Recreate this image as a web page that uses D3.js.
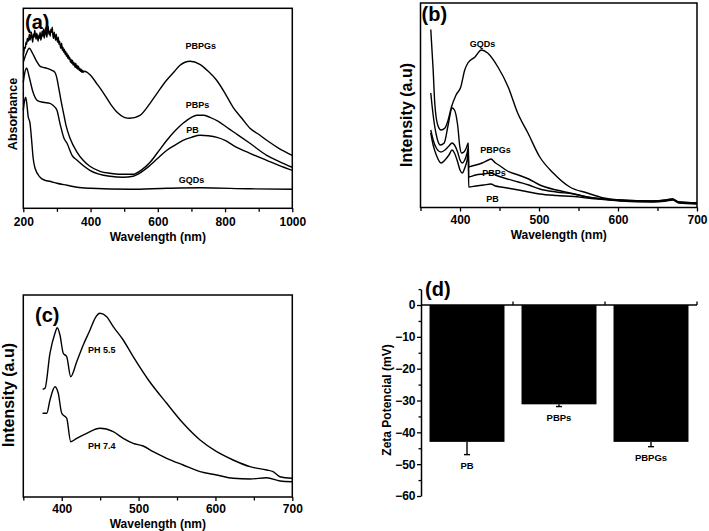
<!DOCTYPE html>
<html><head><meta charset="utf-8">
<script src="https://cdn.jsdelivr.net/npm/d3@7"></script>
<style>
body{margin:0;background:#fff}
svg{display:block}
text{font-family:"Liberation Sans",Arial,Helvetica,sans-serif;font-weight:bold;fill:#000}
</style>
</head><body>
<svg id="c" width="709" height="531"></svg>
<script>
// ---------- Panel (a): UV-Vis absorbance [wavelength nm, absorbance a.u.] ----------
const absPBPGs = [[200,1.53],[202,1.57],[204,1.61],[206,1.60],[208,1.66],[210,1.64],[212,1.70],[214,1.67],[216,1.69],[218,1.74],[220,1.68],[222,1.72],[224,1.76],[226,1.70],[228,1.66],[230,1.74],[232,1.71],[234,1.78],[236,1.73],[238,1.69],[240,1.75],[242,1.72],[244,1.67],[246,1.73],[248,1.70],[250,1.76],[252,1.68],[254,1.71],[256,1.77],[258,1.72],[260,1.79],[262,1.70],[264,1.74],[266,1.80],[268,1.75],[270,1.71],[272,1.78],[274,1.82],[276,1.74],[278,1.77],[280,1.72],[282,1.79],[284,1.76],[286,1.81],[288,1.73],[290,1.70],[292,1.76],[294,1.72],[296,1.68],[298,1.74],[300,1.69],[302,1.66],[304,1.71],[306,1.64],[308,1.67],[310,1.62],[312,1.60],[314,1.65],[316,1.58],[318,1.61],[320,1.56],[322,1.59],[324,1.54],[326,1.57],[328,1.52],[330,1.55],[332,1.50],[334,1.53],[336,1.49],[338,1.51],[340,1.46],[342,1.49],[344,1.45],[346,1.48],[348,1.43],[350,1.46],[352,1.44],[354,1.41],[356,1.45],[358,1.40],[360,1.43],[362,1.39],[364,1.42],[366,1.38],[368,1.40],[370,1.37],[372,1.39],[374,1.36],[376,1.38],[378,1.36],[380,1.37],[390,1.36],[400,1.33],[420,1.24],[437,1.16],[460,1.04],[479,0.96],[500,0.91],[517,0.90],[547,0.93],[577,1.05],[600,1.16],[626,1.28],[650,1.37],[666,1.43],[696,1.47],[725,1.44],[750,1.37],[775,1.28],[800,1.15],[824,1.01],[850,0.90],[874,0.80],[900,0.74],[924,0.68],[960,0.60],[1000,0.53]];
const absPBPs = [[200,1.46],[208,1.54],[218,1.60],[226,1.56],[238,1.48],[250,1.42],[259,1.41],[270,1.40],[285,1.38],[294,1.36],[300,1.30],[305,1.21],[312,1.08],[318,0.98],[327,0.83],[339,0.70],[360,0.56],[378,0.48],[398,0.42],[428,0.37],[458,0.35],[488,0.34],[508,0.34],[526,0.34],[550,0.38],[577,0.46],[600,0.56],[627,0.68],[650,0.77],[675,0.85],[700,0.91],[716,0.93],[735,0.93],[755,0.91],[780,0.87],[805,0.81],[840,0.73],[874,0.65],[924,0.53],[960,0.47],[1000,0.41]];
const absPB = [[200,1.26],[204,1.35],[210,1.40],[217,1.32],[229,1.16],[241,1.08],[259,1.06],[279,1.05],[288,1.03],[300,0.98],[309,0.85],[321,0.70],[330,0.65],[345,0.53],[360,0.48],[398,0.38],[458,0.32],[497,0.31],[526,0.32],[550,0.36],[577,0.43],[600,0.50],[627,0.58],[650,0.63],[675,0.68],[700,0.71],[726,0.73],[750,0.725],[776,0.71],[800,0.68],[824,0.63],[874,0.55],[924,0.48],[960,0.43],[1000,0.38]];
const absGQDs = [[200,0.98],[204,1.08],[207,1.11],[211,1.03],[214,0.93],[220,0.85],[226,0.63],[229,0.51],[235,0.40],[250,0.31],[265,0.28],[279,0.27],[300,0.25],[330,0.23],[360,0.21],[400,0.20],[517,0.19],[627,0.20],[726,0.205],[874,0.195],[1000,0.19]];
const absLabels = [{text:"PBPGs",x:728,y:1.59},{text:"PBPs",x:718,y:1.00},{text:"PB",x:703,y:0.75},{text:"GQDs",x:700,y:0.25}];
const absTicks = [200,400,600,800,1000];
const absMinor = [300,500,700,900];

// ---------- Panel (b): fluorescence [wavelength nm, intensity a.u.] ----------
const flGQDs = [[363,1.78],[366,1.38],[368,1.05],[372,0.82],[376,0.775],[381,0.795],[385,0.875],[389,1.0],[395,1.125],[401,1.205],[406,1.375],[410,1.445],[419,1.505],[427,1.575],[435,1.545],[448,1.405],[461,1.205],[473,0.945],[486,0.745],[501,0.505],[518,0.345],[539,0.205],[561,0.145],[582,0.095],[602,0.075],[644,0.065],[661,0.075],[669,0.085],[677,0.055],[700,0.045]];
const flPBPGs = [[363,1.145],[366,0.925],[370,0.725],[375,0.625],[380,0.645],[385,0.825],[390,0.995],[393,0.975],[397,0.825],[400,0.595],[402,0.545],[405,0.555],[408,0.595],[410.5,0.645],[411,0.405],[415,0.415],[420,0.425],[428,0.445],[436,0.475],[439,0.485],[445,0.445],[449,0.425],[460,0.365],[474,0.325],[487,0.285],[501,0.225],[522,0.175],[539,0.145],[561,0.105],[582,0.085],[602,0.075],[644,0.065],[661,0.075],[669,0.085],[677,0.055],[700,0.045]];
const flPBPs = [[363,0.775],[366,0.675],[370,0.595],[376,0.555],[381,0.575],[386,0.615],[390,0.645],[393,0.625],[397,0.555],[400,0.475],[403,0.445],[406,0.475],[409,0.545],[410.5,0.595],[411,0.305],[420,0.325],[430,0.335],[439,0.345],[445,0.325],[452,0.305],[474,0.255],[487,0.225],[501,0.185],[522,0.155],[544,0.135],[561,0.105],[582,0.085],[602,0.07],[644,0.06],[661,0.07],[669,0.08],[677,0.05],[700,0.04]];
const flPB = [[363,0.745],[366,0.625],[370,0.525],[376,0.445],[381,0.475],[386,0.525],[390,0.575],[393,0.545],[397,0.455],[400,0.375],[403,0.345],[406,0.395],[409,0.475],[410.5,0.555],[411,0.205],[420,0.215],[430,0.225],[439,0.235],[445,0.215],[452,0.205],[474,0.175],[487,0.155],[501,0.135],[522,0.12],[544,0.11],[561,0.095],[582,0.08],[602,0.065],[644,0.055],[661,0.065],[669,0.075],[677,0.045],[700,0.035]];
const flLabels = [{text:"GQDs",x:428.5,y:1.605},{text:"PBPGs",x:445,y:0.545},{text:"PBPs",x:443,y:0.315},{text:"PB",x:441,y:0.06}];
const flTicks = [400,500,600,700];
const flMinor = [350,450,550,650];

// ---------- Panel (c): fluorescence at two pH [wavelength nm, intensity a.u.] ----------
const ph55 = [[375.2,1.077],[378.2,1.087],[384.7,1.437],[391.2,1.637],[394.2,1.693],[397.7,1.62],[402,1.437],[406.5,1.403],[411.7,1.203],[419.5,1.353],[428,1.52],[436.8,1.67],[443.3,1.787],[449.8,1.837],[458.5,1.803],[467,1.703],[480,1.57],[493,1.403],[512.8,1.17],[536.6,0.937],[558,0.737],[580,0.57],[601.6,0.453],[623,0.37],[645,0.303],[666.7,0.27],[675,0.253],[684,0.203],[700,0.187]];
const ph74 = [[375,0.837],[380.5,0.837],[384.7,0.97],[391.2,1.103],[395.5,1.037],[400,0.837],[406.5,0.787],[411.7,0.553],[419.5,0.587],[432.5,0.637],[449.8,0.687],[467,0.653],[480,0.587],[493,0.537],[506,0.51],[519,0.453],[536.6,0.387],[558,0.32],[580,0.253],[601.6,0.22],[623,0.187],[645,0.18],[666.7,0.193],[684,0.16],[700,0.153]];
const phLabels = [{text:"PH 5.5",x:452,y:1.44},{text:"PH 7.4",x:452,y:0.48}];
const phTicks = [400,500,600,700];
const phMinor = [350,450,550,650];

// ---------- Panel (d): zeta potential ----------
const zetaCats = ["PB","PBPs","PBPGs"];
const zetaValues = [-43,-31.2,-43];
const zetaErrors = [4,0.7,1.5];
const zetaTicks = [0,-10,-20,-30,-40,-50,-60];
const zetaMinor = [5,-5,-15,-25,-35,-45,-55];

const svg = d3.select("#c");

function styleAxis(ax, size){
  ax.attr("font-family", null).attr("font-size", null);
  ax.selectAll("text").attr("font-size", size).attr("font-weight","bold").attr("fill","#000");
  ax.selectAll("line").attr("stroke","#000").attr("stroke-width",1.3);
}

function linePanel(p){
  const x = d3.scaleLinear().domain(p.xd).range([p.left,p.right]);
  const y = d3.scaleLinear().domain(p.yd).range([p.bottom,p.top]);
  const g = svg.append("g");
  const ax = g.append("g").attr("transform",`translate(0,${p.bottom})`)
    .call(d3.axisBottom(x).tickValues(p.major).tickSize(4).tickSizeOuter(0).tickPadding(p.pad).tickFormat(d3.format("d")));
  ax.select(".domain").remove();
  styleAxis(ax,12);
  const am = g.append("g").attr("transform",`translate(0,${p.bottom})`)
    .call(d3.axisBottom(x).tickValues(p.minor).tickSize(3.5).tickSizeOuter(0).tickFormat(""));
  am.select(".domain").remove();
  styleAxis(am,12);
  g.append("rect").attr("x",p.left).attr("y",p.top).attr("width",p.right-p.left).attr("height",p.bottom-p.top)
    .attr("fill","none").attr("stroke","#000").attr("stroke-width",1.5);
  const line = d3.line().x(d=>x(d[0])).y(d=>y(d[1])).curve(d3.curveMonotoneX);
  p.series.forEach(s=>g.append("path").attr("d",line(s)).attr("fill","none").attr("stroke","#000")
    .attr("stroke-width",1.4).attr("stroke-linejoin","round"));
  p.labels.forEach(l=>g.append("text").attr("x",x(l.x)).attr("y",y(l.y)).attr("text-anchor","middle")
    .attr("font-size",9).text(l.text));
  g.append("text").attr("x",(p.left+p.right)/2).attr("y",p.xTitleY).attr("text-anchor","middle")
    .attr("font-size",12).text("Wavelength (nm)");
  g.append("text").attr("transform",`translate(${p.yTitleX},${p.yTitleY}) rotate(-90)`).attr("text-anchor","middle")
    .attr("font-size",p.yTitleSize).text(p.yTitle);
  g.append("text").attr("x",p.tagX).attr("y",p.tagY).attr("font-size",20).text(p.tag);
}

linePanel({xd:[200,1000], yd:[0,2], left:23.3, right:292.3, top:8.3, bottom:208.3, pad:5,
  major:absTicks, minor:absMinor, series:[absPBPGs,absPBPs,absPB,absGQDs], labels:absLabels,
  xTitleY:240.5, yTitle:"Absorbance", yTitleX:16.5, yTitleY:114, yTitleSize:12.5, tag:"(a)", tagX:25, tagY:29});

linePanel({xd:[350,700], yd:[0,2.045], left:420.5, right:697, top:3, bottom:207.5, pad:3.5,
  major:flTicks, minor:flMinor, series:[flGQDs,flPBPGs,flPBPs,flPB], labels:flLabels,
  xTitleY:238.5, yTitle:"Intensity (a.u)", yTitleX:411.5, yTitleY:115, yTitleSize:16, tag:"(b)", tagX:421.5, tagY:21});

linePanel({xd:[350,700], yd:[0,2.02], left:23.3, right:292.3, top:295, bottom:497, pad:3.8,
  major:phTicks, minor:phMinor, series:[ph55,ph74], labels:phLabels,
  xTitleY:527.5, yTitle:"Intensity (a.u)", yTitleX:13.5, yTitleY:395, yTitleSize:16, tag:"(c)", tagX:35, tagY:322});

// Panel (d)
(function(){
  const x = d3.scaleBand().domain(zetaCats).range([421,697]).paddingInner(0.185).paddingOuter(0.0925);
  const y = d3.scaleLinear().domain([-60,5]).range([496,289.1]);
  const g = svg.append("g");
  const rows = zetaCats.map((c,i)=>({c, v:zetaValues[i], e:zetaErrors[i]}));
  g.selectAll("rect.bar").data(rows).join("rect").attr("class","bar")
    .attr("x",d=>x(d.c)).attr("y",y(0)).attr("width",x.bandwidth()).attr("height",d=>y(d.v)-y(0)).attr("fill","#000");
  rows.forEach(d=>{
    const cx = x(d.c)+x.bandwidth()/2;
    g.append("line").attr("x1",cx).attr("x2",cx).attr("y1",y(d.v)).attr("y2",y(d.v-d.e)).attr("stroke","#000").attr("stroke-width",1.4);
    g.append("line").attr("x1",cx-3).attr("x2",cx+3).attr("y1",y(d.v-d.e)).attr("y2",y(d.v-d.e)).attr("stroke","#000").attr("stroke-width",1.4);
    g.append("text").attr("x",cx).attr("y",y(d.v-d.e)+14).attr("text-anchor","middle").attr("font-size",9.5).text(d.c);
  });
  g.append("line").attr("x1",421).attr("x2",697).attr("y1",y(0)).attr("y2",y(0)).attr("stroke","#000").attr("stroke-width",1.5);
  zetaCats.forEach((c,i)=>{
    const bx = x.range()[0] + (i+1)*x.step();
    g.append("line").attr("x1",bx).attr("x2",bx).attr("y1",y(0)).attr("y2",y(0)-3.5).attr("stroke","#000").attr("stroke-width",1.3);
  });
  const ay = g.append("g").attr("transform","translate(421,0)")
    .call(d3.axisLeft(y).tickValues(zetaTicks).tickSize(4).tickSizeOuter(0).tickPadding(1.5));
  ay.select(".domain").attr("stroke","#000").attr("stroke-width",1.5);
  styleAxis(ay,12);
  const aym = g.append("g").attr("transform","translate(421,0)")
    .call(d3.axisLeft(y).tickValues(zetaMinor).tickSize(2.5).tickSizeOuter(0).tickFormat(""));
  aym.select(".domain").remove();
  styleAxis(aym,12);
  g.append("text").attr("transform","translate(391,400) rotate(-90)").attr("text-anchor","middle")
    .attr("font-size",12).text("Zeta Potencial (mV)");
  g.append("text").attr("x",425).attr("y",296).attr("font-size",20).text("(d)");
})();
</script>
</body></html>
